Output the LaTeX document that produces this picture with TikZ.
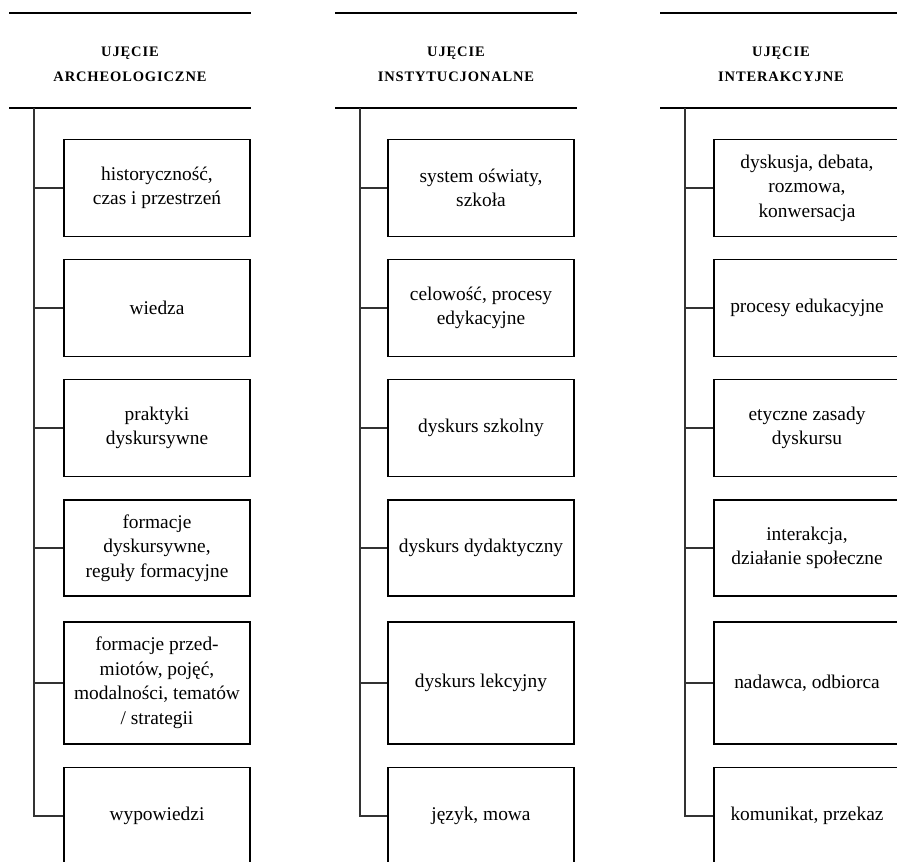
\documentclass[tikz,border=0pt]{standalone}
\usepackage{fontspec}
\setmainfont{Liberation Serif}
\newfontfamily\headfont[LetterSpace=6]{Liberation Serif}
\usepackage{tikz}
\usetikzlibrary{positioning}

\begin{document}
\begin{tikzpicture}[x=1pt,y=-1pt,
  item/.style={draw,line width=1.2pt,minimum width=186pt,inner sep=0pt,align=center,
    font=\fontsize{19.4}{24.5}\selectfont},
  head/.style={align=center,font=\headfont\bfseries\fontsize{14.5}{25}\selectfont},
  link/.style={draw=black!80,line width=1.2pt}]
 \useasboundingbox (0,0) rectangle (897,862);
 \clip (0,0) rectangle (897,862);
 % column heads and trunk tops
 \foreach \c/\x/\lab in {a/9/{UJĘCIE\\ARCHEOLOGICZNE},b/335/{UJĘCIE\\INSTYTUCJONALNE},c/660/{UJĘCIE\\INTERAKCYJNE}} {
  \draw[line width=2.6pt] (\x,13)--(\x+242,13);
  \draw[line width=1.2pt] (\x,108)--(\x+242,108);
  \node[head] (t\c) at (\x+121,64) {\lab};
  \coordinate (s\c) at (\x+25,108);
 }
 % boxes
 \foreach \i/\y/\h/\lab in {1/188/97/{historyczność,\\czas i przestrzeń},2/308/97/{wiedza},3/428/97/{praktyki\\dyskursywne},
   4/548/96/{formacje\\dyskursywne,\\reguły formacyjne},5/683/122/{formacje przed-\\miotów, pojęć,\\modalności, tematów\\/ strategii},6/816/97/{wypowiedzi}}
  \node[item,minimum height=\h pt] (a\i) at (157,\y) {\lab};
 \foreach \i/\y/\h/\lab in {1/188/97/{system oświaty,\\szkoła},2/308/97/{celowość, procesy\\edykacyjne},3/428/97/{dyskurs szkolny},
   4/548/96/{dyskurs dydaktyczny},5/683/122/{dyskurs lekcyjny},6/816/97/{język, mowa}}
  \node[item,minimum height=\h pt] (b\i) at (481,\y) {\lab};
 \foreach \i/\y/\h/\lab in {1/188/97/{dyskusja, debata,\\rozmowa,\\konwersacja},2/308/97/{procesy edukacyjne},3/428/97/{etyczne zasady\\dyskursu},
   4/548/96/{interakcja,\\działanie społeczne},5/683/122/{nadawca, odbiorca},6/816/97/{komunikat, przekaz}}
  \node[item,minimum height=\h pt] (c\i) at (807,\y) {\lab};
 % trunks and branches
 \foreach \c in {a,b,c} {
  \draw[link] (s\c) |- (\c6.west);
  \foreach \i in {1,...,5}
   \draw[link] (s\c |- \c\i.west)--(\c\i.west);
 }
\end{tikzpicture}
\end{document}
